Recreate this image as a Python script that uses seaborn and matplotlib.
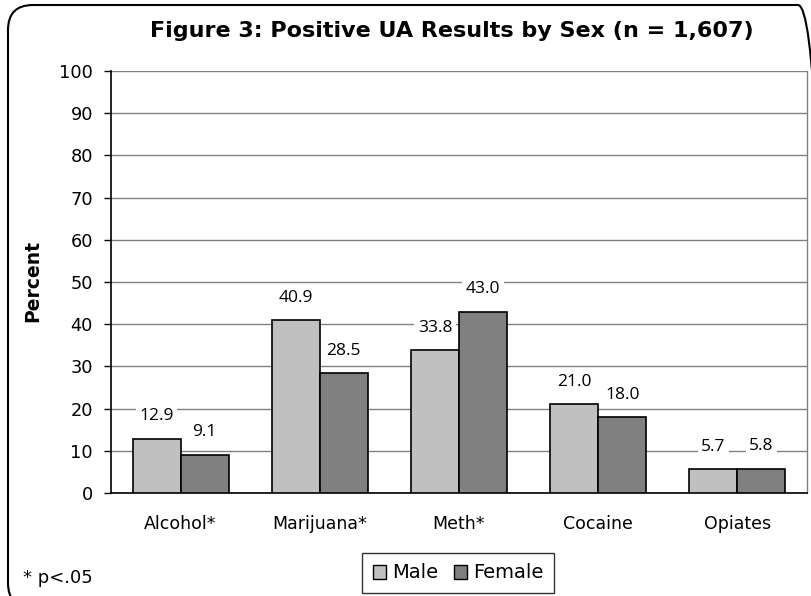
import matplotlib
matplotlib.use("Agg")
import matplotlib.pyplot as plt
import seaborn as sns
import pandas as pd
from matplotlib.patches import FancyBboxPatch, Rectangle

categories = ["Alcohol*", "Marijuana*", "Meth*", "Cocaine", "Opiates"]
male = [12.9, 40.9, 33.8, 21.0, 5.7]
female = [9.1, 28.5, 43.0, 18.0, 5.8]
series = ["Male", "Female"]
colors = ["#C0C0C0", "#808080"]
yticks = [0, 10, 20, 30, 40, 50, 60, 70, 80, 90, 100]

sns.set_theme(style="white")
plt.rcParams["font.family"] = ["DejaVu Sans"]
plt.rcParams["text.color"] = "black"
plt.rcParams["axes.labelcolor"] = "black"
plt.rcParams["xtick.color"] = "black"
plt.rcParams["ytick.color"] = "black"

df = pd.DataFrame({
    "Category": categories * 2,
    "Sex": [series[0]] * len(categories) + [series[1]] * len(categories),
    "Percent": male + female,
})

fig = plt.figure(figsize=(8.12, 5.96), dpi=100)
ax = fig.add_axes([111 / 812, 1 - 493 / 596, (807 - 111) / 812, (493 - 71) / 596])

sns.barplot(data=df, x="Category", y="Percent", hue="Sex", order=categories,
            hue_order=series, palette=colors, width=0.69, edgecolor="black",
            linewidth=1.2, ax=ax, legend=True, zorder=3)

ax.set_ylim(0, 100)
ax.set_xlim(-0.5, len(categories) - 0.5)
ax.set_yticks(yticks)
ax.set_yticklabels([str(t) for t in yticks], fontsize=12.8, color="black")
ax.yaxis.grid(True, color="#808080", linewidth=1, zorder=0)
ax.set_axisbelow(True)
ax.set_xlabel("")
ax.set_ylabel("")
fig.text(33 / 812, 1 - 281 / 596, "Percent", rotation=90, fontsize=13.5,
         fontweight="bold", ha="center", va="center", color="black")

ax.set_xticks(range(len(categories)))
ax.set_xticklabels(categories, fontsize=12.5, color="black")
ax.tick_params(axis="x", which="major", length=0, pad=16)
ax.set_xticks([i - 0.5 for i in range(len(categories) + 1)], minor=True)
ax.tick_params(axis="x", which="minor", length=5, width=1, color="black", direction="out")
ax.tick_params(axis="y", length=5, width=1, color="black", direction="out", left=True, pad=8)

for s in ["left", "bottom"]:
    ax.spines[s].set_color("black")
    ax.spines[s].set_linewidth(1.2)
ax.spines["top"].set_visible(False)
ax.spines["right"].set_color("#808080")
ax.spines["right"].set_linewidth(1)

for container in ax.containers:
    for bar in container:
        h = bar.get_height()
        ax.annotate(f"{h:.1f}", (bar.get_x() + bar.get_width() / 2, h),
                    xytext=(0, 16), textcoords="offset points",
                    ha="center", va="center", fontsize=12.5, zorder=4, color="black",
                    family=["Open Sans", "DejaVu Sans"],
                    bbox=dict(boxstyle="square,pad=0.2", fc="white", ec="none"))

leg = ax.get_legend()
leg.remove()
handles = [Rectangle((0, 0), 1, 1, fc=c, ec="black", lw=1) for c in colors]
fig.legend(handles, series, loc="center", bbox_to_anchor=(458 / 812, 1 - 573 / 596),
           ncol=2, frameon=True, fancybox=False, edgecolor="black", fontsize=14,
           handlelength=0.7, handleheight=0.7, handletextpad=0.3, columnspacing=0.8,
           borderpad=0.55, borderaxespad=0, labelcolor="black")

fig.text(23 / 812, 1 - 578 / 596, "* p<.05", fontsize=13, ha="left", va="center",
         color="black")
fig.text(452 / 812, 1 - 31 / 596, "Figure 3: Positive UA Results by Sex (n = 1,607)",
         fontsize=16, fontweight="bold", ha="center", va="center", color="black")

border = FancyBboxPatch((8 / 812, -12 / 596), 815 / 812, 603 / 596,
                        boxstyle="round,pad=0,rounding_size=%f" % (25 / 812),
                        transform=fig.transFigure, fc="none", ec="black", lw=1.5,
                        mutation_aspect=812 / 596, clip_on=False)
fig.patches.append(border)

fig.savefig("out.png", dpi=100)
